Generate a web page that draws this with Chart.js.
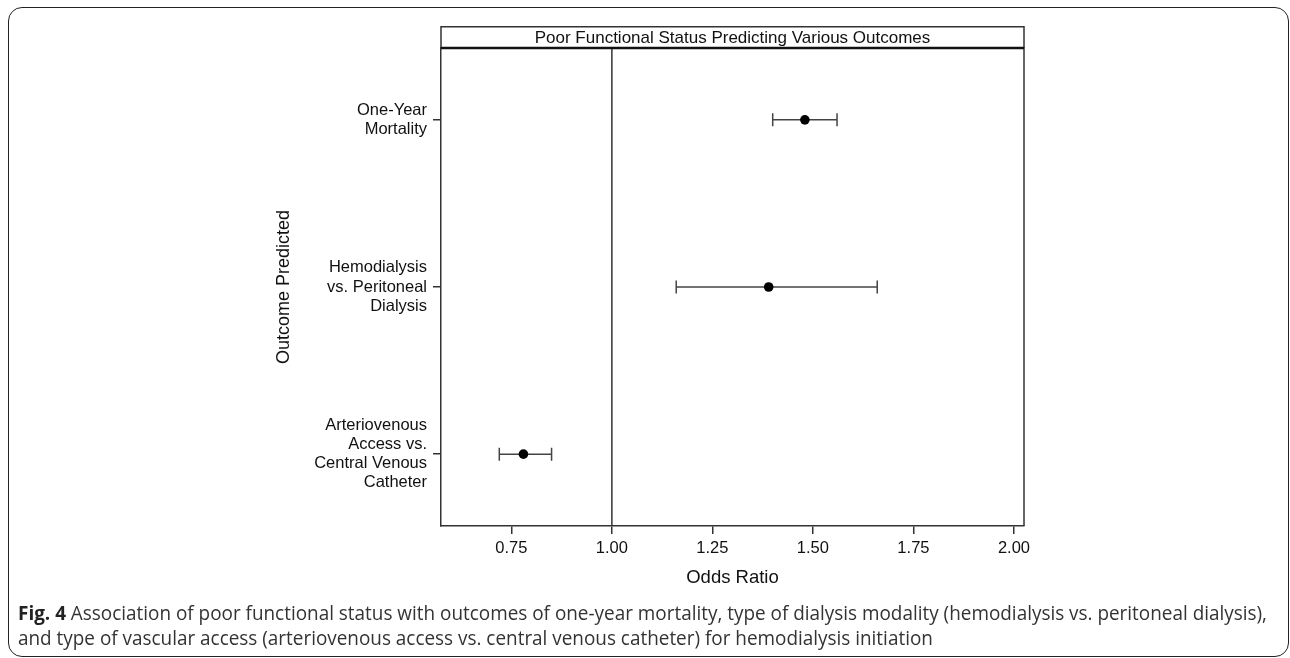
<!DOCTYPE html>
<html><head><meta charset="utf-8">
<script src="https://cdn.jsdelivr.net/npm/chart.js@4.4.0/dist/chart.umd.min.js"></script>
<style>
html,body{margin:0;padding:0;background:#fff;width:1290px;height:658px;overflow:hidden;}
#frame{position:absolute;left:8px;top:7px;width:1281px;height:650px;border:1.5px solid #222;border-radius:14px;box-sizing:border-box;}
#wrap{position:absolute;left:0;top:0;width:1290px;height:658px;}
#caption{position:absolute;left:18px;top:600px;font-family:'Open Sans','Noto Sans',sans-serif;font-size:19.5px;color:#333;line-height:25px;}
.line{white-space:nowrap;transform-origin:0 0;display:block;width:max-content;}
.line b{color:#222;}
</style></head>
<body>
<div id="frame"></div>
<div id="wrap"><canvas id="c" width="1290" height="658"></canvas></div>
<div id="caption"><span class="line" id="l1"><b>Fig. 4</b> Association of poor functional status with outcomes of one-year mortality, type of dialysis modality (hemodialysis vs. peritoneal dialysis),</span><span class="line" id="l2">and type of vascular access (arteriovenous access vs. central venous catheter) for hemodialysis initiation</span></div>
<script>
// ---- data ----
const categories = [
  ['One-Year', 'Mortality'],
  ['Hemodialysis', 'vs. Peritoneal', 'Dialysis'],
  ['Arteriovenous', 'Access vs.', 'Central Venous', 'Catheter']
];
const positions = [1, 2, 3];
const oddsRatio = [1.48, 1.39, 0.78];
const ciLower = [1.40, 1.16, 0.72];
const ciUpper = [1.56, 1.66, 0.85];
const xTicks = [0.75, 1.00, 1.25, 1.50, 1.75, 2.00];
const xTickLabels = ['0.75', '1.00', '1.25', '1.50', '1.75', '2.00'];
const refLine = 1.0;
const panelTitle = 'Poor Functional Status Predicting Various Outcomes';
const xTitle = 'Odds Ratio';
const yTitle = 'Outcome Predicted';

const FONT = "'Liberation Sans', Arial, sans-serif";
const LINE = '#333';
const TEXT = '#111';

const forestPlugin = {
  id: 'forest',
  beforeDatasetsDraw(chart) {
    const {ctx, chartArea: a, scales: {x, y}} = chart;
    ctx.save();
    ctx.strokeStyle = LINE; ctx.lineWidth = 1.5;
    const rx = x.getPixelForValue(refLine);
    ctx.beginPath(); ctx.moveTo(rx, a.top); ctx.lineTo(rx, a.bottom); ctx.stroke();
    ctx.strokeStyle = '#444'; ctx.lineWidth = 1.5;
    for (let i = 0; i < positions.length; i++) {
      const py = y.getPixelForValue(positions[i]);
      const x0 = x.getPixelForValue(ciLower[i]);
      const x1 = x.getPixelForValue(ciUpper[i]);
      ctx.beginPath();
      ctx.moveTo(x0, py); ctx.lineTo(x1, py);
      ctx.moveTo(x0, py - 6.5); ctx.lineTo(x0, py + 6.5);
      ctx.moveTo(x1, py - 6.5); ctx.lineTo(x1, py + 6.5);
      ctx.stroke();
    }
    ctx.restore();
  },
  afterDraw(chart) {
    const {ctx, chartArea: a} = chart;
    ctx.save();
    ctx.strokeStyle = LINE; ctx.lineWidth = 1.5;
    ctx.beginPath();
    ctx.moveTo(a.left, a.top); ctx.lineTo(a.right, a.top); ctx.lineTo(a.right, a.bottom);
    ctx.stroke();
    const st = 26.7;
    ctx.beginPath();
    ctx.moveTo(a.left, a.top); ctx.lineTo(a.left, st); ctx.lineTo(a.right, st); ctx.lineTo(a.right, a.top);
    ctx.stroke();
    ctx.lineWidth = 2.5; ctx.strokeStyle = '#111';
    ctx.beginPath(); ctx.moveTo(a.left, a.top); ctx.lineTo(a.right, a.top); ctx.stroke();
    ctx.fillStyle = TEXT;
    ctx.font = "17px " + FONT;
    ctx.textAlign = 'center'; ctx.textBaseline = 'middle';
    ctx.fillText(panelTitle, (a.left + a.right) / 2, (st + a.top) / 2 + 0.5);
    ctx.restore();
  }
};

const gridOpts = {display: true, drawOnChartArea: false, drawTicks: true, tickLength: 8, color: LINE, lineWidth: 1.5};

new Chart(document.getElementById('c'), {
  type: 'scatter',
  data: {
    datasets: [{
      data: positions.map((p, i) => ({x: oddsRatio[i], y: p})),
      pointRadius: 4.8,
      pointBackgroundColor: '#000',
      pointBorderWidth: 0,
      showLine: false
    }]
  },
  options: {
    responsive: false,
    animation: false,
    layout: {padding: {left: 263, top: 48, right: 266, bottom: 58}},
    plugins: {legend: {display: false}, tooltip: {enabled: false}, title: {display: false}},
    scales: {
      x: {
        type: 'linear', min: 0.575, max: 2.025,
        afterBuildTicks: s => { s.ticks = xTicks.map(v => ({value: v})); },
        afterFit: s => { s.height = 74; },
        ticks: {callback: (v, i) => xTickLabels[i], font: {family: FONT, size: 16.5}, color: TEXT, padding: 5, maxRotation: 0, autoSkip: false},
        grid: gridOpts,
        border: {display: true, color: LINE, width: 1.5},
        title: {display: true, text: xTitle, font: {family: FONT, size: 18.5}, color: TEXT, padding: {top: 0, bottom: 11}}
      },
      y: {
        type: 'linear', reverse: true, min: 0.57, max: 3.43,
        afterBuildTicks: s => { s.ticks = positions.map(v => ({value: v})); },
        afterFit: s => { s.width = 178; },
        ticks: {callback: (v, i) => categories[i], font: {family: FONT, size: 16.5, lineHeight: 1.16}, color: TEXT, padding: 6, autoSkip: false},
        grid: gridOpts,
        border: {display: true, color: LINE, width: 1.5},
        title: {display: true, text: yTitle, font: {family: FONT, size: 18}, color: TEXT, padding: {top: 10, bottom: 0}}
      }
    }
  },
  plugins: [forestPlugin]
});

(function () {
  const l1 = document.getElementById('l1'), l2 = document.getElementById('l2');
  const w = l1.getBoundingClientRect().width;
  const k = 1249 / w;
  l1.style.transform = 'scaleX(' + k + ')';
  l2.style.transform = 'scaleX(' + k + ')';
})();
</script>
</body></html>
